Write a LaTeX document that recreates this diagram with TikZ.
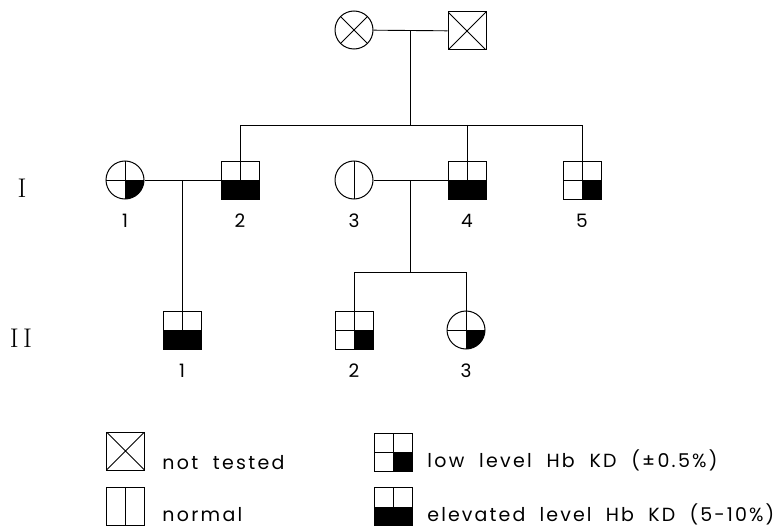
\documentclass[tikz,border=0pt]{standalone}
\usepackage{fontspec}
\usetikzlibrary{calc}
\newfontfamily\lgdfont[LetterSpace=12]{Poppins}
\newfontfamily\lgdfontb[LetterSpace=11]{Poppins}
\newfontfamily\lblfont{Poppins}
\begin{document}
\begin{tikzpicture}[x=1pt,y=-1pt,line width=0.9pt,
  sym/.style={draw,inner sep=0pt,minimum size=38pt,line width=1pt},
  sq/.style={sym,rectangle},
  ci/.style={sym,circle},
  xed/.style={path picture={\draw (path picture bounding box.north west) -- (path picture bounding box.south east) (path picture bounding box.north east) -- (path picture bounding box.south west);}},
  vdiv/.style={path picture={\draw (path picture bounding box.north) -- (path picture bounding box.south);}},
  quarter/.style={path picture={\fill (path picture bounding box.center) rectangle (path picture bounding box.south east);
     \draw (path picture bounding box.north) -- (path picture bounding box.south) (path picture bounding box.west) -- (path picture bounding box.east);}},
  elev/.style={path picture={\fill (path picture bounding box.west) rectangle (path picture bounding box.south east);
     \draw (path picture bounding box.north) -- (path picture bounding box.center);}},
  lbl/.style={font=\lblfont\fontsize{18.5}{20}\selectfont,inner sep=0pt},
  roman/.style={font=\fontsize{27}{30}\selectfont,inner sep=0pt},
  lgd/.style={font=\lgdfont\fontsize{19}{22}\selectfont,inner sep=0pt,anchor=base west},
  lgdb/.style={font=\lgdfontb\fontsize{19}{22}\selectfont,inner sep=0pt,anchor=base west}
]
\useasboundingbox (0,0) rectangle (780,527);

% parents
\node[ci,xed] (p1) at (354,30) {};
\node[sq,xed] (p2) at (467,31) {};
\draw (p1) -- (p2);
\coordinate (pm) at ($(p1)!0.5!(p2)$);

% generation I
\node[ci,quarter] (i1) at (125,180) {};
\node[sq,elev] (i2) at (240,180) {};
\node[ci,vdiv] (i3) at (354,180) {};
\node[sq,elev] (i4) at (467,180) {};
\node[sq,quarter] (i5) at (582,180) {};

\coordinate (s0) at (pm |- 0,125);
\draw (pm) -- (s0);
\draw (i2.north) -- (i2.north |- s0) -- (i5.north |- s0) -- (i5.north);
\draw (i4.north |- s0) -- (i4.north);

\draw (i1) -- (i2);
\draw (i3) -- (i4);
\coordinate (m12) at ($(i1)!0.5!(i2)$);
\coordinate (m34) at ($(i3)!0.5!(i4)$);

% generation II
\node[sq,elev] (ii1) at (m12 |- 0,330) {};
\node[sq,quarter] (ii2) at (354,330) {};
\node[ci,quarter] (ii3) at (466,330) {};

\draw (m12) -- (ii1.north);
\coordinate (s1) at (m34 |- 0,272);
\draw (m34) -- (s1);
\draw (ii2.north) -- (ii2.north |- s1) -- (ii3.north |- s1) -- (ii3.north);

% labels
\node[lbl] (l1) at (125,221) {1};
\node[lbl] (l2) at (240,221) {2};
\node[lbl] (l3) at (354,221) {3};
\node[lbl] (l4) at (467,221) {4};
\node[lbl] (l5) at (582,221) {5};
\node[lbl] (m1) at (182,371) {1};
\node[lbl] (m2) at (354,371) {2};
\node[lbl] (m3) at (466,371) {3};

\node[roman] (gI) at (22,188) {I};
\node[roman] (gII) at (21,338) {I\,I};

% legend
\node[sq,xed] (k1) at (125.5,451) {};
\node[sq,vdiv] (k2) at (125.5,506.5) {};
\node[sq,quarter] (k3) at (393.5,452) {};
\node[sq,elev] (k4) at (393.5,506.5) {};
\node[lgd] (t1) at (162,469) {not\ \ tested};
\node[lgd] (t2) at (162,521) {normal};
\node[lgd] (t3) at (427,467) {low\ \ level\ \ Hb\ \ KD\ \ (±0.5\%)};
\node[lgdb] (t4) at (427,521) {elevated\ \ level\ \ Hb\ \ KD\ \ (5-10\%)};
\end{tikzpicture}
\end{document}
